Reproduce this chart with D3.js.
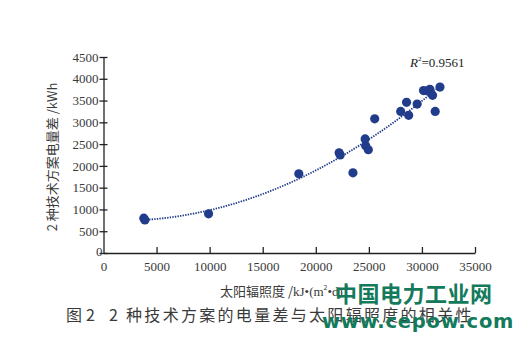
<!DOCTYPE html>
<html><head><meta charset="utf-8">
<script src="https://cdn.jsdelivr.net/npm/d3@7"></script>
<style>
html,body{margin:0;padding:0;background:#fff;}
svg{display:block;}
</style></head>
<body>
<svg id="chart" width="513" height="350"></svg>
<script>
// Data
const irradiance = [3800, 3900, 9900, 18400, 22200, 22300, 23500, 24650, 24700, 24950, 25550, 28000, 28550, 28750, 29550, 30150, 30550, 30750, 31000, 31250, 31700];
const energyDiff = [800, 760, 900, 1820, 2300, 2250, 1840, 2620, 2460, 2370, 3080, 3250, 3460, 3160, 3420, 3730, 3720, 3760, 3620, 3250, 3810];
const xTicks = [0, 5000, 10000, 15000, 20000, 25000, 30000, 35000];
const yTicks = [0, 500, 1000, 1500, 2000, 2500, 3000, 3500, 4000, 4500];
const r2Label = "0.9561";

const svg = d3.select("#chart");
const navy = "#213c8b";
const textCol = "#3a3a3a";

const x = d3.scaleLinear().domain([0, 35000]).range([103.5, 475]);
const y = d3.scaleLinear().domain([0, 4500]).range([253, 57]);

// axes
const xAxis = d3.axisBottom(x).tickValues(xTicks).tickSizeInner(-6).tickSizeOuter(0).tickPadding(9).tickFormat(d3.format("d"));
const yAxis = d3.axisLeft(y).tickValues(yTicks).tickSizeInner(4).tickSizeOuter(0).tickPadding(3).tickFormat(d3.format("d"));

const gx = svg.append("g").attr("transform", `translate(0,${y(0)})`).call(xAxis);
const gy = svg.append("g").attr("transform", `translate(${x(0)},0)`).call(yAxis);
// y ticks cross the axis
gy.selectAll(".tick line").attr("x1", 4).attr("x2", -4);
gy.selectAll(".tick text").attr("x", -5);
gy.selectAll(".tick").filter(d => d === 0).select("text").attr("x", -1).attr("dy", "0.2em");
[gx, gy].forEach(g => {
  g.select(".domain").attr("stroke", "#222").attr("stroke-width", 1.3);
  g.selectAll(".tick line").attr("stroke", "#222").attr("stroke-width", 1.3);
  g.selectAll(".tick text").attr("fill", textCol).attr("font-family", "'Liberation Serif', 'DejaVu Serif', serif").attr("font-size", 13);
});
gx.selectAll(".tick").filter(d => d === 0).select("line").remove();

// polynomial (order 2) least-squares trend from the data
function polyFit(xs, ys) {
  const n = xs.length;
  let S = [0,0,0,0,0], T = [0,0,0];
  for (let i = 0; i < n; i++) {
    const xi = xs[i] / 1000;
    for (let k = 0; k < 5; k++) S[k] += Math.pow(xi, k);
    for (let k = 0; k < 3; k++) T[k] += ys[i] * Math.pow(xi, k);
  }
  const A = [[S[0],S[1],S[2],T[0]],[S[1],S[2],S[3],T[1]],[S[2],S[3],S[4],T[2]]];
  for (let i = 0; i < 3; i++) {
    for (let j = i + 1; j < 3; j++) {
      const f = A[j][i] / A[i][i];
      for (let k = i; k < 4; k++) A[j][k] -= f * A[i][k];
    }
  }
  const c = [0,0,0];
  for (let i = 2; i >= 0; i--) {
    let s = A[i][3];
    for (let k = i + 1; k < 3; k++) s -= A[i][k] * c[k];
    c[i] = s / A[i][i];
  }
  return v => c[0] + c[1] * (v / 1000) + c[2] * Math.pow(v / 1000, 2);
}
const fit = polyFit(irradiance, energyDiff);
const xMin = d3.min(irradiance), xMax = d3.max(irradiance);
const trendX = d3.range(xMin, xMax + 1, (xMax - xMin) / 60);
svg.append("path")
  .datum(trendX)
  .attr("fill", "none")
  .attr("stroke", navy)
  .attr("stroke-width", 1.8)
  .attr("stroke-dasharray", "1.4,1.2")
  .attr("d", d3.line().x(d => x(d)).y(d => y(fit(d))));

// points
svg.append("g").selectAll("circle")
  .data(irradiance.map((v, i) => [v, energyDiff[i]]))
  .join("circle")
  .attr("cx", d => x(d[0]))
  .attr("cy", d => y(d[1]))
  .attr("r", 4.6)
  .attr("fill", navy);

// R^2 label
const rt = svg.append("text").attr("x", 410).attr("y", 67)
  .attr("font-family", "'Liberation Serif', serif").attr("font-size", 13).attr("fill", "#222");
rt.append("tspan").attr("font-style", "italic").text("R");
rt.append("tspan").attr("font-size", 7).attr("dy", -6).text("2");
rt.append("tspan").attr("dy", 6).text("=" + r2Label);

// y axis title
svg.append("text")
  .attr("transform", "translate(57,157) rotate(-90)")
  .attr("text-anchor", "middle")
  .attr("font-family", "'Noto Sans CJK SC', sans-serif")
  .attr("font-size", 13)
  .attr("fill", textCol)
  .text("2 种技术方案电量差 /kWh");

// x axis title
const xt = svg.append("text")
  .attr("x", 220).attr("y", 296)
  .attr("font-family", "'Noto Sans CJK SC', sans-serif")
  .attr("font-size", 13)
  .attr("fill", textCol);
xt.append("tspan").text("太阳辐照度 /");
xt.append("tspan").attr("font-family", "'Liberation Serif', serif").text("kJ•(m");
xt.append("tspan").attr("font-size", 7).attr("dy", -6).text("2");
xt.append("tspan").attr("dy", 6).attr("font-family", "'Liberation Serif', serif").text("•d)");
xt.append("tspan").attr("font-size", 7).attr("dy", -6).text("-1");

// caption
const cap = svg.append("text")
  .attr("y", 321)
  .attr("font-family", "'Noto Sans CJK SC', sans-serif")
  .attr("font-size", 16)
  .attr("fill", textCol);
cap.append("tspan").attr("x", 66).text("图");
cap.append("tspan").attr("x", 86).text("2");
cap.append("tspan").attr("x", 109).attr("letter-spacing", 2.3).text("2 种技术方案的电量差与太阳辐照度的相关性");

// watermark
svg.append("text")
  .attr("x", 335).attr("y", 302)
  .attr("font-family", "'Noto Sans CJK SC', sans-serif")
  .attr("font-weight", "bold")
  .attr("font-size", 22)
  .attr("letter-spacing", 0.5)
  .attr("fill", "#137a5c")
  .text("中国电力工业网");
svg.append("text")
  .attr("x", 322).attr("y", 328)
  .attr("font-family", "'DejaVu Sans', sans-serif")
  .attr("font-weight", "bold")
  .attr("font-size", 19.5)
  .attr("letter-spacing", 0.8)
  .attr("fill", "#137a5c")
  .text("www.cepow.com");
</script>
</body></html>
